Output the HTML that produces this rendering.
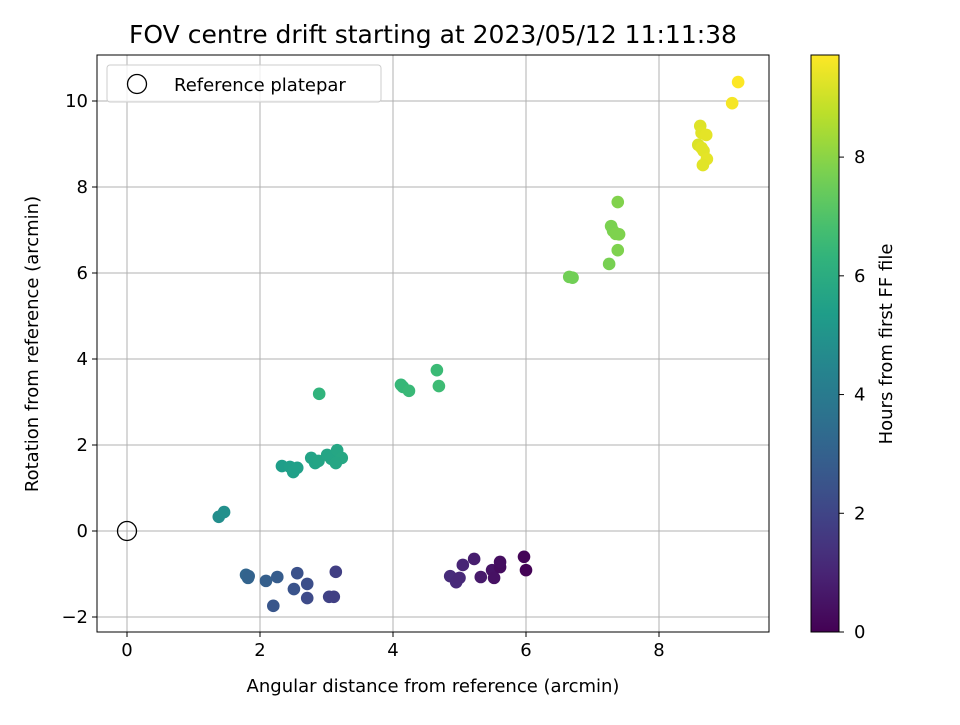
<!DOCTYPE html>
<html><head><meta charset="utf-8"><style>
body{margin:0;background:#fff;font-family:"Liberation Sans","DejaVu Sans",sans-serif}
svg text{font-family:"DejaVu Sans","Liberation Sans",sans-serif}
</style></head><body>
<svg id="c" width="960" height="720">
<text x="433" y="43" font-size="25" text-anchor="middle">FOV centre drift starting at 2023/05/12 11:11:38</text>
</svg>
<script>
const xs=[5.97,6.0,4.86,4.95,5.0,5.05,5.22,5.32,5.49,5.52,5.61,5.61,
1.82,1.79,1.83,2.09,2.26,2.20,2.56,2.51,2.71,2.71,3.04,3.11,3.14,
1.38,1.46,
2.33,2.45,2.50,2.56,2.77,2.83,2.88,3.01,3.07,3.16,3.23,3.14,
2.89,4.12,4.15,4.24,4.66,4.69,
6.65,6.70,7.25,7.28,7.31,7.35,7.40,7.38,7.38,
8.59,8.62,8.64,8.64,8.67,8.71,8.72,8.66,9.10,9.19];
const ys=[-0.60,-0.91,-1.05,-1.19,-1.09,-0.79,-0.65,-1.07,-0.91,-1.09,-0.84,-0.72,
-1.09,-1.02,-1.05,-1.16,-1.07,-1.74,-0.98,-1.35,-1.23,-1.56,-1.53,-1.53,-0.95,
0.33,0.44,
1.51,1.49,1.37,1.47,1.70,1.58,1.63,1.77,1.68,1.88,1.70,1.58,
3.19,3.40,3.35,3.26,3.74,3.37,
5.91,5.89,6.21,7.09,6.98,6.91,6.90,6.53,7.65,
8.98,9.42,9.26,8.91,8.84,9.21,8.65,8.51,9.95,10.44];
const hrs=[0.1,0.05,1.2,1.15,1.1,1.0,0.8,0.7,0.5,0.45,0.3,0.35,
3.1,3.15,3.05,2.9,2.8,2.6,2.4,2.5,2.3,2.2,1.9,1.85,1.8,
4.8,4.85,
5.4,5.45,5.5,5.5,5.6,5.6,5.65,5.7,5.7,5.75,5.8,5.75,
6.3,6.5,6.5,6.55,6.6,6.65,
7.6,7.6,7.7,7.75,7.75,7.8,7.8,7.8,7.85,
9.2,9.25,9.3,9.3,9.3,9.35,9.35,9.3,9.6,9.7];
const xticks=[0,2,4,6,8],yticks=[-2,0,2,4,6,8,10],cticks=[0,2,4,6,8];
const NS="http://www.w3.org/2000/svg",svg=document.getElementById('c');
const L=97,R=769,T=55,B=632;
const X=v=>127+v*66.5,Y=v=>531-v*43;
const CB0=811,CB1=839,CMAX=9.72,C=h=>632-h*577/CMAX;
const vir=[[68,1,84],[72,40,120],[62,74,137],[49,104,142],[38,130,142],[31,158,137],[53,183,121],[110,206,88],[181,222,43],[253,231,37]];
function cmap(t){t=Math.max(0,Math.min(1,t))*9;const i=Math.min(8,Math.floor(t)),f=t-i;const a=vir[i],b=vir[i+1];return `rgb(${a.map((v,k)=>Math.round(v+(b[k]-v)*f)).join(',')})`;}
function el(tag,at,txt){const e=document.createElementNS(NS,tag);for(const k in at)e.setAttribute(k,at[k]);if(txt!=null)e.textContent=txt;svg.appendChild(e);return e;}
const FS=18;
xticks.forEach(v=>{const g=el('line',{x1:X(v),x2:X(v),y1:T,y2:B,stroke:'#b0b0b0','stroke-width':1});

const t=el('line',{x1:X(v),x2:X(v),y1:B,y2:B+5,stroke:'#000'});
const l=el('text',{x:X(v),y:B+24,'font-size':FS,'text-anchor':'middle'},v);});
yticks.forEach(v=>{const g=el('line',{x1:L,x2:R,y1:Y(v),y2:Y(v),stroke:'#b0b0b0','stroke-width':1});

const t=el('line',{x1:L-5,x2:L,y1:Y(v),y2:Y(v),stroke:'#000'});
const l=el('text',{x:L-9,y:Y(v)+6,'font-size':FS,'text-anchor':'end'},v<0?'\u2212'+(-v):v);});
xs.forEach((x,i)=>{const c=el('circle',{cx:X(x),cy:Y(ys[i]),r:6.3,fill:cmap(hrs[i]/CMAX)});
});
const ref=el('circle',{cx:X(0),cy:Y(0),r:9.5,fill:'none',stroke:'#000','stroke-width':1.3});

const fr=el('rect',{x:L,y:T,width:R-L,height:B-T,fill:'none',stroke:'#000','stroke-width':1});

const lg=el('rect',{x:107,y:65,width:274,height:37,rx:3,fill:'#fff','fill-opacity':0.8,stroke:'#ccc'});

const lc=el('circle',{cx:137,cy:84,r:9.5,fill:'none',stroke:'#000','stroke-width':1.3});

const lt=el('text',{x:174,y:91,'font-size':FS},'Reference platepar');

const xt=el('text',{x:433,y:692,'font-size':FS,'text-anchor':'middle'},'Angular distance from reference (arcmin)');

const yt=el('text',{x:38,y:344,'font-size':FS,'text-anchor':'middle',transform:'rotate(-90 38 344)'},'Rotation from reference (arcmin)');

const defs=el('defs',{});const gr=document.createElementNS(NS,'linearGradient');gr.setAttribute('id','vg');gr.setAttribute('x1',0);gr.setAttribute('y1',1);gr.setAttribute('x2',0);gr.setAttribute('y2',0);
for(let i=0;i<=20;i++){const s=document.createElementNS(NS,'stop');s.setAttribute('offset',i/20);s.setAttribute('stop-color',cmap(i/20));gr.appendChild(s);}defs.appendChild(gr);
const cb=el('rect',{x:CB0,y:T,width:CB1-CB0,height:B-T,fill:'url(#vg)',stroke:'#000','stroke-width':1});

cticks.forEach(v=>{const t=el('line',{x1:CB1,x2:CB1+5,y1:C(v),y2:C(v),stroke:'#000'});
const l=el('text',{x:CB1+15,y:C(v)+6,'font-size':FS},v);});
const ct=el('text',{x:892,y:344,'font-size':FS,'text-anchor':'middle',transform:'rotate(-90 892 344)'},'Hours from first FF file');

</script></body></html>
